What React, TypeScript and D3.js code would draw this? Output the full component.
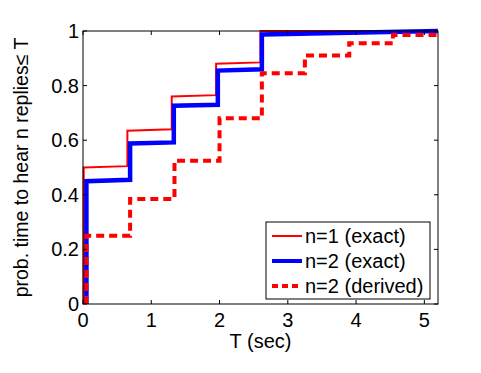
import React from "react";
import * as d3 from "d3";

// ---- data ----
const xTicks = [0, 1, 2, 3, 4, 5];
const yTicks = [0, 0.2, 0.4, 0.6, 0.8, 1];
const xTickLabels = ["0", "1", "2", "3", "4", "5"];
const yTickLabels = ["0", "0.2", "0.4", "0.6", "0.8", "1"];

// n=1 (exact): step times, level at step start, level just before next step
const n1Times = [0.01, 0.65, 1.3, 1.95, 2.6];
const n1LevelStart = [0.5, 0.635, 0.76, 0.88, 1.0];
const n1LevelEnd = [0.505, 0.64, 0.765, 0.885, 1.0];

// n=2 (exact)
const n2Times = [0.05, 0.69, 1.33, 1.975, 2.62];
const n2LevelStart = [0.45, 0.588, 0.726, 0.855, 0.987];
const n2LevelEnd = [0.455, 0.592, 0.73, 0.86, 1.0];

// n=2 (derived)
const d2Times = [0.05, 0.69, 1.34, 2.0, 2.62, 3.25, 3.9, 4.54, 5.18];
const d2Levels = [0.25, 0.385, 0.525, 0.68, 0.845, 0.91, 0.955, 0.985, 1.0];

const seriesNames = ["n=1 (exact)", "n=2 (exact)", "n=2 (derived)"];

const X_MAX = 5.2;

function stairs(times: number[], starts: number[], ends: number[]) {
  const pts: [number, number][] = [[times[0], 0]];
  for (let i = 0; i < times.length; i++) {
    const next = i + 1 < times.length ? times[i + 1] : X_MAX;
    pts.push([times[i], starts[i]]);
    pts.push([next, ends[i]]);
  }
  return pts;
}

export default function App() {
  const W = 481, H = 373;
  const left = 83, right = 438, top = 31, bottom = 304;
  const x = d3.scaleLinear().domain([0, X_MAX]).range([left, right]);
  const y = d3.scaleLinear().domain([0, 1]).range([bottom, top]);
  const line = d3.line<[number, number]>().x(d => x(d[0])).y(d => y(d[1]));

  const n1 = stairs(n1Times, n1LevelStart, n1LevelEnd);
  const n2 = stairs(n2Times, n2LevelStart, n2LevelEnd);
  const d2 = stairs(d2Times, d2Levels, d2Levels);

  const font = "'Liberation Sans', Arial, Helvetica, sans-serif";
  const tickLen = 4;
  const fs = 20;

  const legX = 266, legY = 222, legW = 164, legH = 77;
  const styles = [
    { stroke: "#ff0000", width: 2, dash: undefined as string | undefined },
    { stroke: "#0000ff", width: 4.5, dash: undefined as string | undefined },
    { stroke: "#ff0000", width: 4, dash: "8,5" },
  ];

  return (
    <svg width={W} height={H} style={{ position: "absolute", left: 0, top: 0, background: "#fff" }} fontFamily={font}>
      <rect x={0} y={0} width={W} height={H} fill="#fff" />
      <defs>
        <clipPath id="plotclip">
          <rect x={left - 3} y={top - 3} width={right - left + 6} height={bottom - top + 6} />
        </clipPath>
      </defs>
      {/* series */}
      <g clipPath="url(#plotclip)" fill="none">
        <path d={line(n1) || ""} stroke={styles[0].stroke} strokeWidth={styles[0].width} />
        <path d={line(n2) || ""} stroke={styles[1].stroke} strokeWidth={styles[1].width} />
        <path d={line(d2) || ""} stroke={styles[2].stroke} strokeWidth={styles[2].width} strokeDasharray={styles[2].dash} />
      </g>
      {/* axes box */}
      <rect x={left} y={top} width={right - left} height={bottom - top} fill="none" stroke="#000" strokeWidth={1} />
      {xTicks.map((t, i) => (
        <g key={"xt" + i}>
          <line x1={x(t)} x2={x(t)} y1={bottom} y2={bottom - tickLen} stroke="#000" />
          <line x1={x(t)} x2={x(t)} y1={top} y2={top + tickLen} stroke="#000" />
          <text x={x(t)} y={bottom + 23} textAnchor="middle" fontSize={fs}>{xTickLabels[i]}</text>
        </g>
      ))}
      {yTicks.map((t, i) => (
        <g key={"yt" + i}>
          <line x1={left} x2={left + tickLen} y1={y(t)} y2={y(t)} stroke="#000" />
          <line x1={right} x2={right - tickLen} y1={y(t)} y2={y(t)} stroke="#000" />
          <text x={left - 4} y={y(t) + 7} textAnchor="end" fontSize={fs}>{yTickLabels[i]}</text>
        </g>
      ))}
      <text x={(left + right) / 2} y={348} textAnchor="middle" fontSize={fs}>T (sec)</text>
      <text transform={`translate(28,${(top + bottom) / 2}) rotate(-90)`} textAnchor="middle" fontSize={19.5}>
        prob. time to hear n replies≤ T
      </text>
      {/* legend */}
      <rect x={legX} y={legY} width={legW} height={legH} fill="#fff" stroke="#000" strokeWidth={1} />
      {seriesNames.map((name, i) => {
        const cy = legY + 14 + i * 25;
        return (
          <g key={"lg" + i}>
            <line x1={legX + 6} x2={legX + 36} y1={cy} y2={cy} stroke={styles[i].stroke}
              strokeWidth={i === 0 ? 2 : 4} strokeDasharray={i === 2 ? "6,4" : undefined} />
            <text x={legX + 39} y={cy + 7} fontSize={fs}>{name}</text>
          </g>
        );
      })}
    </svg>
  );
}
